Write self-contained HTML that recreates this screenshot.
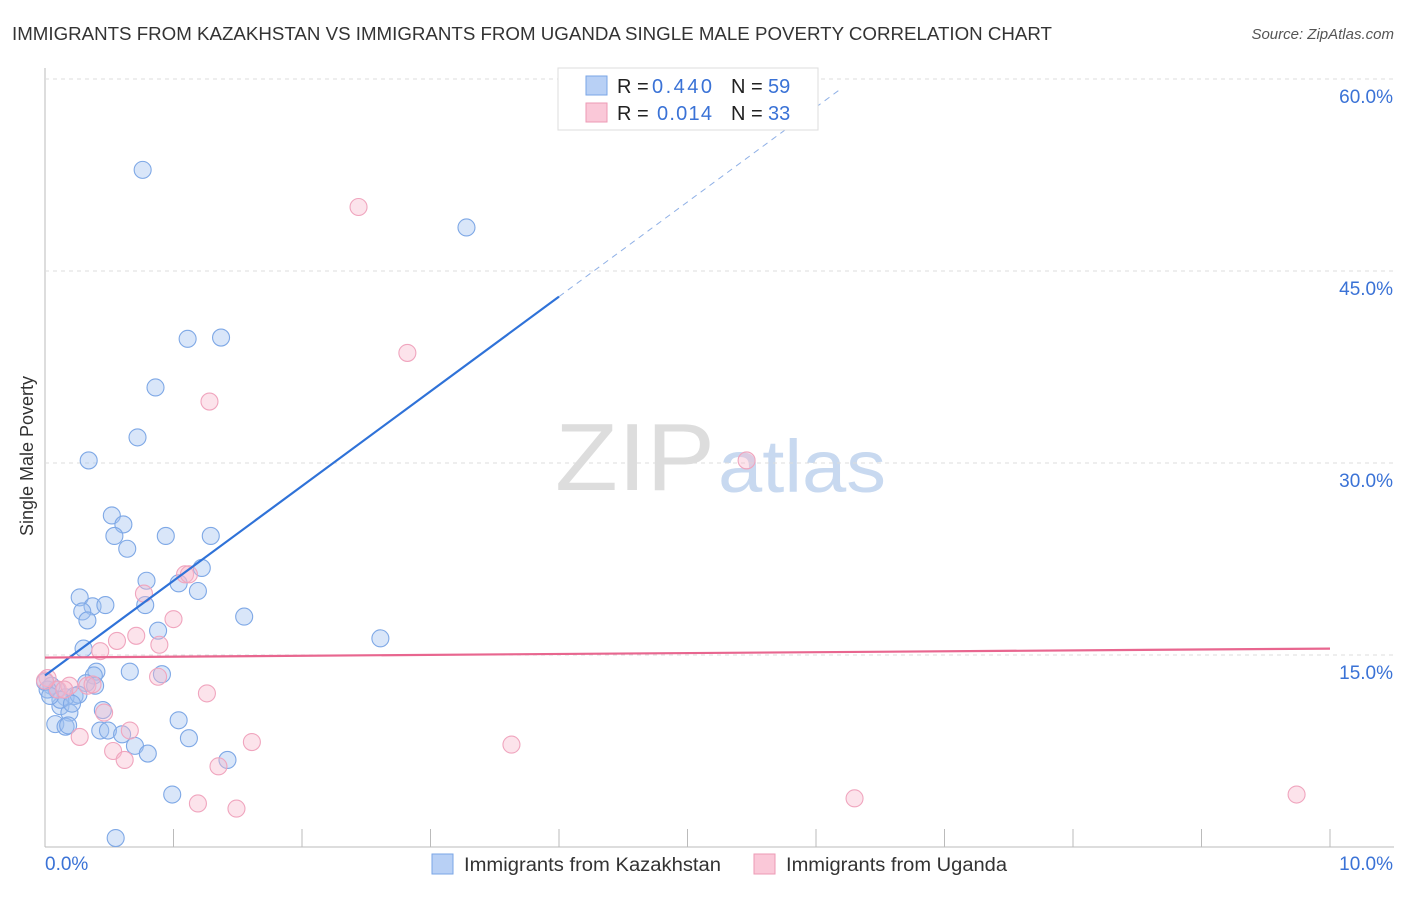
<!DOCTYPE html>
<html><head><meta charset="utf-8"><style>
body{margin:0;background:#fff;font-family:"Liberation Sans",sans-serif;}
svg text{font-family:"Liberation Sans",sans-serif;}
</style></head><body>
<svg id="chart" width="1406" height="892" xmlns="http://www.w3.org/2000/svg">
<text x="12" y="40" font-size="18" fill="#333" textLength="1040" lengthAdjust="spacingAndGlyphs">IMMIGRANTS FROM KAZAKHSTAN VS IMMIGRANTS FROM UGANDA SINGLE MALE POVERTY CORRELATION CHART</text>
<text x="1394" y="39" font-size="15" fill="#555" font-style="italic" text-anchor="end">Source: ZipAtlas.com</text>
<text x="33" y="456" font-size="18" fill="#333" transform="rotate(-90 33 456)" text-anchor="middle">Single Male Poverty</text>
<text x="555" y="490" font-size="96" fill="#ddd" font-family="Liberation Serif" textLength="160" lengthAdjust="spacingAndGlyphs">ZIP</text>
<text x="718" y="492" font-size="74" fill="#c8d9f0" textLength="168" lengthAdjust="spacingAndGlyphs">atlas</text>
<g id="grid"></g><g id="pts"></g><g id="lines"></g>
<g>
<rect x="558" y="68" width="260" height="62" fill="#fff" stroke="#ddd"/>
<rect x="586" y="76" width="21" height="19" fill="#b8d0f5" stroke="#7aa6e6"/>
<rect x="586" y="103" width="21" height="19" fill="#fac8d8" stroke="#ec9ab5"/>
<text x="617" y="93" font-size="20" fill="#222">R = <tspan x="652" fill="#3a72d6" textLength="60">0.440</tspan><tspan x="731">N = </tspan><tspan x="768" fill="#3a72d6">59</tspan></text>
<text x="617" y="120" font-size="20" fill="#222">R = <tspan x="657" fill="#3a72d6" textLength="55">0.014</tspan><tspan x="731">N = </tspan><tspan x="768" fill="#3a72d6">33</tspan></text>
</g>
<g>
<rect x="432" y="854" width="21" height="20" fill="#b8d0f5" stroke="#7aa6e6"/>
<text x="464" y="871" font-size="19" fill="#333" textLength="257" lengthAdjust="spacingAndGlyphs">Immigrants from Kazakhstan</text>
<rect x="754" y="854" width="21" height="20" fill="#fac8d8" stroke="#ec9ab5"/>
<text x="786" y="871" font-size="19" fill="#333" textLength="221" lengthAdjust="spacingAndGlyphs">Immigrants from Uganda</text>
</g>
</svg>
<script>
const xTicks=[0,1,2,3,4,5,6,7,8,9,10];
const yTicks=[15,30,45,60];
const yTickLabels=["15.0%","30.0%","45.0%","60.0%"];
const blueX=[0.76,3.28,1.11,1.37,0.86,0.72,0.34,0.52,0.61,0.54,0.94,1.29,0.64,1.22,0.79,1.04,1.19,0.27,0.37,0.47,0.29,0.33,0.78,1.55,0.88,2.61,0.30,0.40,0.66,0.91,0.38,0.32,0.05,0.09,0.23,0.16,0.12,0.19,0.26,0.08,0.16,0.43,0.49,0.60,1.04,0.70,0.80,1.12,1.42,0.99,0.55,0.02,0.12,0.21,0.0,0.18,0.04,0.39,0.45];
const blueY=[52.9,48.4,39.7,39.8,35.9,32.0,30.2,25.9,25.2,24.3,24.3,24.3,23.3,21.8,20.8,20.6,20.0,19.5,18.8,18.9,18.4,17.7,18.9,18.0,16.9,16.3,15.5,13.7,13.7,13.5,13.4,12.8,12.6,12.3,11.8,11.7,11.0,10.5,11.9,9.6,9.4,9.1,9.1,8.8,9.9,7.9,7.3,8.5,6.8,4.1,0.7,12.3,11.5,11.2,12.9,9.5,11.8,12.6,10.7];
const pinkX=[2.44,2.82,1.28,5.46,1.09,1.12,0.77,1.00,0.56,0.71,0.89,0.43,0.02,0.10,0.19,0.33,0.88,1.26,0.46,0.27,0.53,0.62,0.66,1.61,1.35,3.63,1.19,1.49,6.30,9.74,0.0,0.15,0.37];
const pinkY=[50.0,38.6,34.8,30.2,21.3,21.3,19.8,17.8,16.1,16.5,15.8,15.3,13.2,12.3,12.6,12.6,13.3,12.0,10.5,8.6,7.5,6.8,9.1,8.2,6.3,8.0,3.4,3.0,3.8,4.1,13.0,12.3,12.7];
const blueFit=[13.4,7.4];
const pinkFit=[14.8,0.07];
const NS="http://www.w3.org/2000/svg";
const X=v=>45+v*128.5, Y=v=>847-v*12.8;
function mk(t,a,p){const e=document.createElementNS(NS,t);for(const k in a)e.setAttribute(k,a[k]);p.appendChild(e);return e;}
const grid=document.getElementById('grid');
mk('line',{x1:45,y1:68,x2:45,y2:847,stroke:'#bbb'},grid);
mk('line',{x1:45,y1:847,x2:1394,y2:847,stroke:'#bbb'},grid);
xTicks.forEach(t=>{const l=mk('line',{x1:X(t),y1:829,x2:X(t),y2:847,stroke:'#bbb'},grid);

});
yTicks.forEach((t,i)=>{const l=mk('line',{x1:45,y1:Y(t),x2:1394,y2:Y(t),stroke:'#ddd','stroke-dasharray':'4,4'},grid);


const tx=mk('text',{x:1393,y:Y(t)+24,'font-size':19,fill:'#3a72d6','text-anchor':'end'},grid);tx.textContent=yTickLabels[i];

});
const x0=mk('text',{x:45,y:870,'font-size':19,fill:'#3a72d6'},grid);x0.textContent='0.0%';


const x1=mk('text',{x:1393,y:870,'font-size':19,fill:'#3a72d6','text-anchor':'end'},grid);x1.textContent='10.0%';


const pts=document.getElementById('pts');
blueX.forEach((x,i)=>{const c=mk('circle',{cx:X(x),cy:Y(blueY[i]),r:8.5,fill:'rgba(160,192,240,0.4)',stroke:'#7ea8e6','stroke-width':1.1},pts);

});
pinkX.forEach((x,i)=>{const c=mk('circle',{cx:X(x),cy:Y(pinkY[i]),r:8.5,fill:'rgba(248,185,205,0.4)',stroke:'#f0a5be','stroke-width':1.1},pts);

});
const lines=document.getElementById('lines');
const f=(fit,x)=>fit[0]+fit[1]*x;
let l=mk('line',{x1:X(0),y1:Y(f(blueFit,0)),x2:X(4),y2:Y(f(blueFit,4)),stroke:'#2f72d8','stroke-width':2.2},lines);


l=mk('line',{x1:X(4),y1:Y(f(blueFit,4)),x2:X(6.19),y2:Y(f(blueFit,6.19)),stroke:'#8fb0e6','stroke-width':1,'stroke-dasharray':'6,5'},lines);


l=mk('line',{x1:X(0),y1:Y(f(pinkFit,0)),x2:X(10),y2:Y(f(pinkFit,10)),stroke:'#e8668f','stroke-width':2.2},lines);


</script>
</body></html>
